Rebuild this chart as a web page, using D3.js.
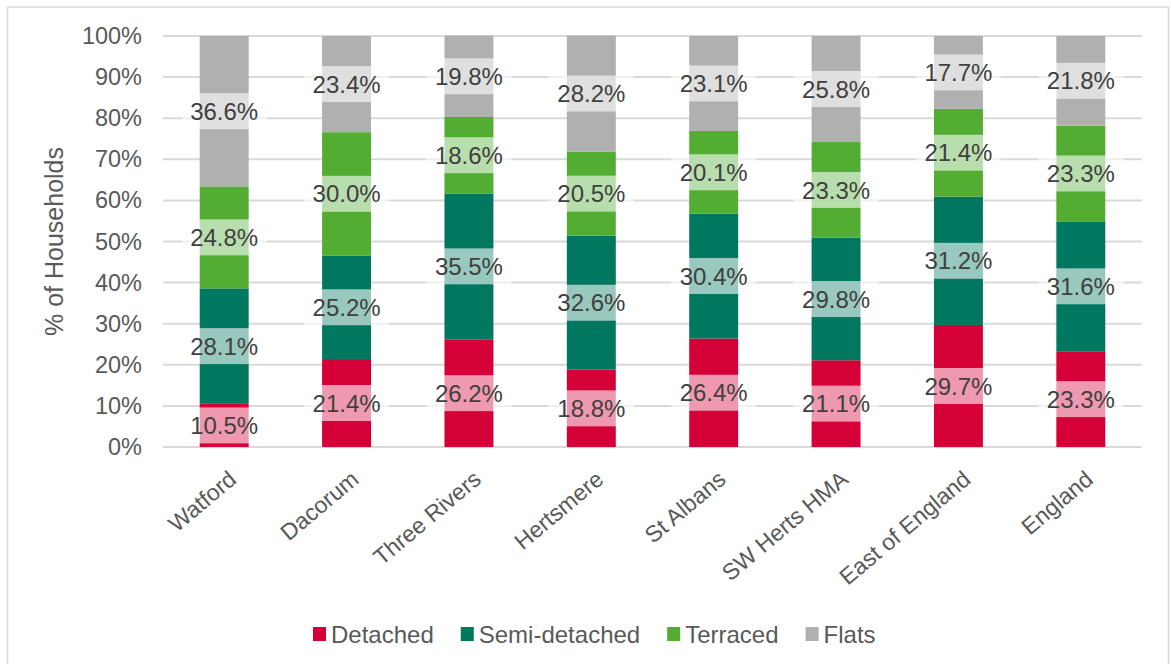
<!DOCTYPE html>
<html>
<head>
<meta charset="utf-8">
<script src="https://cdn.jsdelivr.net/npm/d3@7"></script>
<style>
  body { margin: 0; background: #fff; }
  text { font-family: "Liberation Sans", Arial, sans-serif; }
</style>
</head>
<body>
<div id="chart"></div>
<script>
const categories = ['Watford', 'Dacorum', 'Three Rivers', 'Hertsmere', 'St Albans', 'SW Herts HMA', 'East of England', 'England'];
const seriesNames = ['Detached', 'Semi-detached', 'Terraced', 'Flats'];
const detached = [10.5, 21.4, 26.2, 18.8, 26.4, 21.1, 29.7, 23.3];
const semiDetached = [28.1, 25.2, 35.5, 32.6, 30.4, 29.8, 31.2, 31.6];
const terraced = [24.8, 30.0, 18.6, 20.5, 20.1, 23.3, 21.4, 23.3];
const flats = [36.6, 23.4, 19.8, 28.2, 23.1, 25.8, 17.7, 21.8];
const yTicks = [0, 10, 20, 30, 40, 50, 60, 70, 80, 90, 100];
const colors = ['#d50037', '#00775f', '#52ad32', '#b0b0b0'];

const W = 1171, H = 664;
const MARGIN = {TOP: 36, LEFT: 163, RIGHT: 29, BOTTOM: 217};
const plotW = W - MARGIN.LEFT - MARGIN.RIGHT;
const plotH = H - MARGIN.TOP - MARGIN.BOTTOM;

const rows = categories.map((c, i) => ({
  cat: c,
  Detached: detached[i],
  'Semi-detached': semiDetached[i],
  Terraced: terraced[i],
  Flats: flats[i]
}));

const stack = d3.stack().keys(seriesNames)(rows);

const svg = d3.select('#chart').append('svg')
  .attr('width', W)
  .attr('height', H);

// outer frame
svg.append('rect')
  .attr('x', 7.5).attr('y', 7)
  .attr('width', 1161).attr('height', 670)
  .attr('fill', 'none')
  .attr('stroke', '#d9d9d9')
  .attr('stroke-width', 1.5);

const g = svg.append('g')
  .attr('transform', `translate(${MARGIN.LEFT}, ${MARGIN.TOP})`);

const x = d3.scaleBand()
  .domain(categories)
  .range([0, plotW])
  .paddingInner(0.6)
  .paddingOuter(0.3);

const y = d3.scaleLinear()
  .domain([0, 100])
  .range([plotH, 0]);

// gridlines
g.append('g')
  .selectAll('line')
  .data(yTicks)
  .join('line')
    .attr('x1', 0)
    .attr('x2', plotW)
    .attr('y1', d => y(d))
    .attr('y2', d => y(d))
    .attr('stroke', '#d9d9d9')
    .attr('stroke-width', 2);

// y axis labels
const yAxis = g.append('g')
  .call(d3.axisLeft(y).tickValues(yTicks).tickFormat(d => d + '%').tickSize(0).tickPadding(21));
yAxis.select('.domain').remove();
yAxis.selectAll('text')
  .attr('font-size', 23.5)
  .attr('fill', '#595959')
  .style('font-family', '"Liberation Sans", Arial, sans-serif');

// bars
const layers = g.append('g')
  .selectAll('g')
  .data(stack)
  .join('g')
    .attr('fill', (d, i) => colors[i]);

layers.selectAll('rect')
  .data(d => d)
  .join('rect')
    .attr('x', d => x(d.data.cat))
    .attr('width', x.bandwidth())
    .attr('y', d => y(d[1]))
    .attr('height', d => y(d[0]) - y(d[1]));

// data labels with translucent boxes
const labels = g.append('g')
  .selectAll('g')
  .data(stack.flatMap(s => s.map(d => ({d, key: s.key}))))
  .join('g')
    .attr('transform', o => `translate(${x(o.d.data.cat) + x.bandwidth() / 2}, ${y((o.d[0] + o.d[1]) / 2)})`);

labels.append('rect')
  .attr('x', -42.5)
  .attr('y', -18)
  .attr('width', 85)
  .attr('height', 36)
  .attr('fill', '#fff')
  .attr('fill-opacity', 0.6);

labels.append('text')
  .attr('text-anchor', 'middle')
  .attr('dy', '0.36em')
  .attr('font-size', 24)
  .attr('fill', '#404040')
  .text(o => (o.d[1] - o.d[0]).toFixed(1) + '%');

// x axis labels
g.append('g')
  .selectAll('text')
  .data(categories)
  .join('text')
    .attr('transform', d => `translate(${x(d) + x.bandwidth() / 2 + 3}, ${plotH + 22}) rotate(-40)`)
    .attr('text-anchor', 'end')
    .attr('dy', '0.72em')
    .attr('font-size', 23)
    .attr('fill', '#595959')
    .text(d => d);

// y axis title
svg.append('text')
  .attr('transform', `translate(63, ${MARGIN.TOP + y(50)}) rotate(-90)`)
  .attr('text-anchor', 'middle')
  .attr('font-size', 25)
  .attr('fill', '#595959')
  .text('% of Households');

// legend
const legend = svg.append('g').attr('transform', 'translate(313, 634)');
let lx = 0;
seriesNames.forEach((name, i) => {
  const item = legend.append('g').attr('transform', `translate(${lx}, 0)`);
  item.append('rect')
    .attr('x', 0).attr('y', -7)
    .attr('width', 13).attr('height', 14)
    .attr('fill', colors[i]);
  const t = item.append('text')
    .attr('x', 18)
    .attr('dy', '0.36em')
    .attr('font-size', 24)
    .attr('fill', '#595959')
    .text(name);
  lx += 18 + t.node().getComputedTextLength() + 27;
});
</script>
</body>
</html>
